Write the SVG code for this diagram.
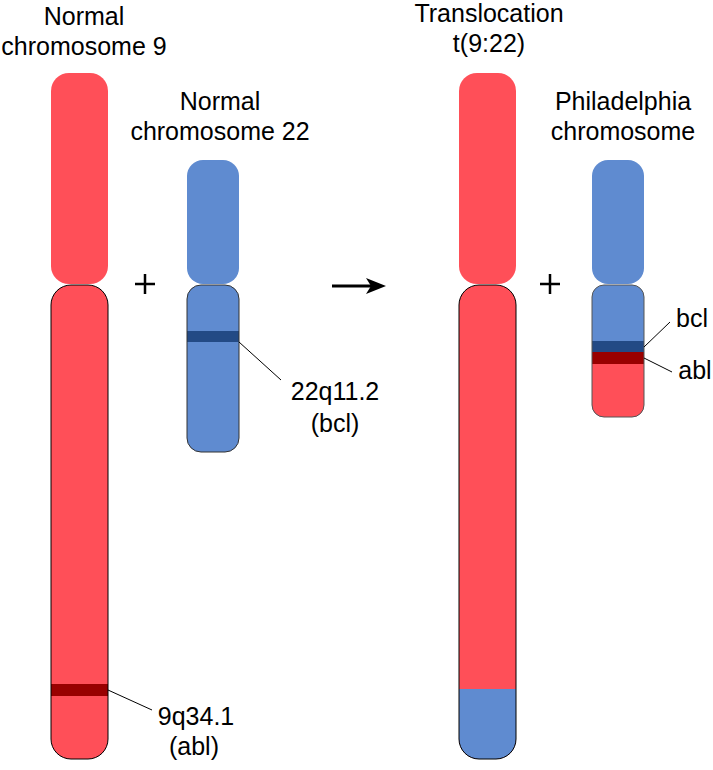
<svg xmlns="http://www.w3.org/2000/svg" width="713" height="770" viewBox="0 0 713 770">
<style>
text{font-family:"Liberation Sans",Arial,sans-serif;font-size:25px;fill:#000;text-anchor:middle}
.r{fill:#ff4f58}.b{fill:#5f8bd0}
.ln{stroke:#000;stroke-width:1;fill:none}
</style>
<rect width="713" height="770" fill="#fff"/>
<defs>
<clipPath id="c9"><rect x="51" y="285" width="57" height="474" rx="20"/></clipPath>
<clipPath id="c22"><rect x="187" y="285" width="52" height="167" rx="14"/></clipPath>
<clipPath id="cd"><rect x="459" y="285" width="57" height="474" rx="20"/></clipPath>
<clipPath id="cp"><rect x="592" y="285" width="52" height="132" rx="12"/></clipPath>
</defs>
<g id="chr9">
<rect class="r" x="51" y="73" width="57" height="211" rx="18"/>
<g clip-path="url(#c9)"><rect class="r" x="51" y="285" width="57" height="474"/><rect x="51" y="684" width="57" height="12" fill="#900"/></g>
<rect x="51" y="285" width="57" height="474" rx="20" fill="none" stroke="#000"/>
<text x="84" y="25">Normal</text><text x="84" y="55">chromosome 9</text>
<text x="196" y="725">9q34.1</text><text x="194" y="755">(abl)</text>
</g>
<g id="chr22">
<rect class="b" x="187" y="160" width="52" height="124" rx="16"/>
<g clip-path="url(#c22)"><rect class="b" x="187" y="285" width="52" height="167"/><rect x="187" y="331" width="52" height="11" fill="#234a85"/></g>
<rect x="187" y="285" width="52" height="167" rx="14" fill="none" stroke="#333"/>
<text x="220" y="110">Normal</text><text x="220" y="140">chromosome 22</text>
<text x="335" y="400">22q11.2</text><text x="335" y="432">(bcl)</text>
</g>
<g id="der9">
<rect class="r" x="459" y="73" width="57" height="211" rx="18"/>
<g clip-path="url(#cd)"><rect class="r" x="459" y="285" width="57" height="474"/><rect class="b" x="459" y="689" width="57" height="70"/></g>
<rect x="459" y="285" width="57" height="474" rx="20" fill="none" stroke="#000"/>
<text x="489" y="22">Translocation</text><text x="489" y="52">t(9:22)</text>
</g>
<g id="ph">
<rect class="b" x="592" y="160" width="52" height="124" rx="16"/>
<g clip-path="url(#cp)"><rect class="b" x="592" y="285" width="52" height="132"/><rect x="592" y="341" width="52" height="11" fill="#234a85"/><rect x="592" y="352" width="52" height="12" fill="#900"/><rect class="r" x="592" y="364" width="52" height="53"/></g>
<rect x="592" y="285" width="52" height="132" rx="12" fill="none" stroke="#555"/>
<text x="623" y="110">Philadelphia</text><text x="623" y="140">chromosome</text>
<text x="692" y="327">bcl</text><text x="695" y="379">abl</text>
</g>
<g id="connectors">
<line class="ln" x1="108" y1="690" x2="152" y2="710"/>
<line class="ln" x1="239" y1="342" x2="281" y2="380"/>
<line class="ln" x1="644" y1="347" x2="670" y2="322"/>
<line class="ln" x1="644" y1="358" x2="672" y2="372"/>
<path d="M332 286H372" stroke="#000" stroke-width="3"/>
<path d="M386 286L366 278L371 286L366 294Z" fill="#000"/>
<path d="M135 284H155M145 274V294M540 284H560M550 274V294" stroke="#000" stroke-width="2.5"/>
</g>
</svg>
